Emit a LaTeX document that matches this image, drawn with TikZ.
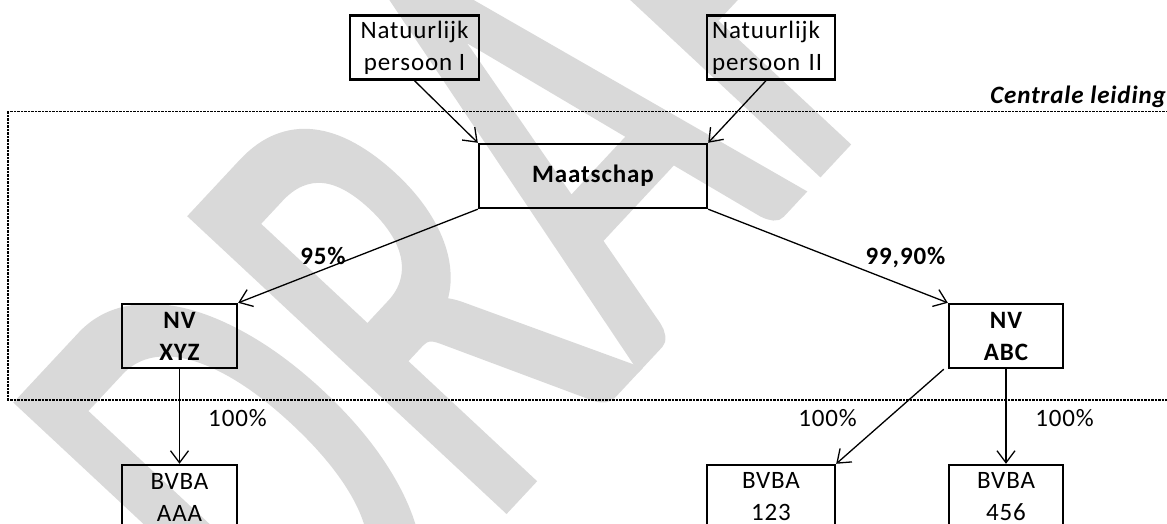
\documentclass[tikz,border=0pt]{standalone}
\usepackage{fontspec}
\setmainfont{Carlito}[LetterSpace=3.5]
\newfontfamily\draftfont{Carlito}[FakeBold=2]
\usetikzlibrary{arrows.meta}
\definecolor{draftgray}{RGB}{217,217,217}

\begin{document}
\begin{tikzpicture}[x=1pt, y=1pt, >={Straight Barb[length=12pt,width=18pt]}]
		\tikzstyle{box}=[draw=black, line width=2.4pt, minimum height=64pt, inner sep=0pt, align=center, font=\fontsize{25}{32}\selectfont]
		\tikzstyle{pct}=[inner sep=0pt, anchor=base, font=\fontsize{25}{28}\selectfont]
		\tikzstyle{link}=[->, line width=1.3pt]
		\tikzstyle{leiding}=[draw=black, line width=1.8pt, dash pattern=on 2.5pt off 1pt]
		\tikzstyle{draft}=[text=draftgray, inner sep=0pt, anchor=base west, rotate=47, font=\draftfont\fontsize{660}{660}\selectfont]
			\useasboundingbox (0,0) rectangle (1167,524);
			% watermark
			\node[draft] (wm) at (311.5,-189.5) {\scalebox{0.624}[1]{DRAFT}};
			\draw[leiding] (8,412.5) rectangle (1185,124);
			\node[inner sep=0pt, anchor=base east, font=\fontsize{25}{28}\selectfont\bfseries\itshape] (cl) at (1166,420) {Centrale leiding};
			% top
			\node[box, minimum width=129pt] (np1) at (414.5,476.5) {Natuurlijk\\persoon I};
			\node[box, minimum width=128pt, text width=118pt, inner xsep=5pt, align=left] (np2) at (771,476.5) {Natuurlijk\\persoon II};
			\node[box, minimum width=228pt, font=\fontsize{25}{32}\selectfont\bfseries] (maat) at (593,348) {Maatschap};
			% nv
			\node[box, minimum width=115pt, font=\fontsize{25}{32}\selectfont\bfseries] (xyz) at (179.5,188) {NV\\XYZ};
			\node[box, minimum width=114pt, font=\fontsize{25}{32}\selectfont\bfseries] (abc) at (1006,188) {NV\\ABC};
			% bvba
			\node[box, minimum width=115pt] (aaa) at (179.5,27) {BVBA\\AAA};
			\node[box, minimum width=128pt] (b123) at (771,27) {BVBA\\123};
			\node[box, minimum width=114pt] (b456) at (1006,27) {BVBA\\456};
			\path[link]
				(np1.south) edge (maat.north west)
				([xshift=-5pt]np2.south) edge (maat.north east)
				(maat.south west) edge (xyz.north east)
				(maat.south east) edge (abc.north west)
				(xyz.south) edge (aaa.north)
				([xshift=-4pt]abc.south west) edge (b123.north east)
				(abc.south) edge (b456.north);
			\node[pct, font=\fontsize{25}{28}\selectfont\bfseries] (p95) at (323,259) {95\%};
			\node[pct, font=\fontsize{25}{28}\selectfont\bfseries] (p999) at (905.5,259) {99,90\%};
			\node[pct] (paaa) at (237.5,97) {100\%};
			\node[pct] (p123) at (827.5,97) {100\%};
			\node[pct] (p456) at (1064.5,97) {100\%};
\end{tikzpicture}
\end{document}
